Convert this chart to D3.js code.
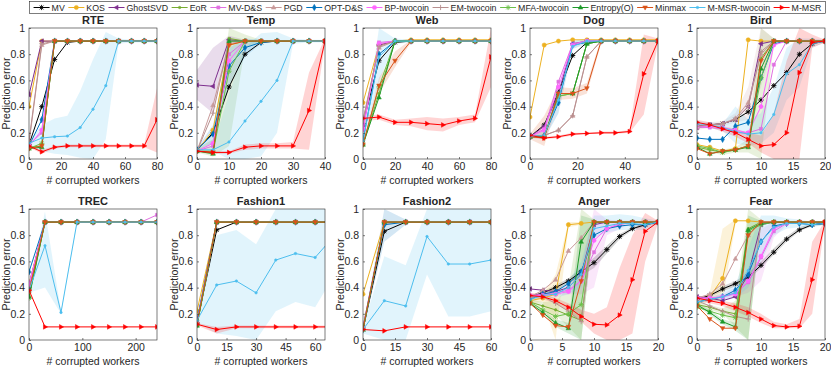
<!DOCTYPE html>
<html>
<head>
<meta charset="utf-8">
<script src="https://cdn.jsdelivr.net/npm/d3@7"></script>
<style>
  body { margin: 0; background: #fff; }
  text { font-family: "Liberation Sans", Arial, Helvetica, sans-serif; fill: #262626; }
</style>
</head>
<body>
<svg width="831" height="369"></svg>
<script>
// series, in legend order
const seriesNames = ["MV", "KOS", "GhostSVD", "EoR", "MV-D&S", "PGD", "OPT-D&S", "BP-twocoin",
  "EM-twocoin", "MFA-twocoin", "Entropy(O)", "Minmax", "M-MSR-twocoin", "M-MSR"];
const seriesColors = ["#000000", "#EDB120", "#7E2F8E", "#77AC30", "#E070E0", "#C89A9A", "#0072BD", "#FF66FF",
  "#B89090", "#6CC04A", "#1E9A2A", "#D95319", "#4DBEEE", "#FF0000"];
const seriesMarkers = ["star", "circle", "left", "dot", "square", "up", "diamond", "circle",
  "plus", "star", "up", "down", "dot", "right"];

// ---- RTE
const rteX = [0, 8, 16, 24, 32, 40, 48, 56, 64, 72, 80];
const rteVals = [
  [0.11, 0.40, 0.76, 0.89, 0.90, 0.90, 0.90, 0.90, 0.90, 0.90, 0.90],
  [0.40, 0.90, 0.90, 0.90, 0.90, 0.90, 0.90, 0.90, 0.90, 0.90, 0.90],
  [0.49, 0.90, 0.90, 0.90, 0.90, 0.90, 0.90, 0.90, 0.90, 0.90, 0.90],
  [0.09, 0.10, 0.90, 0.90, 0.90, 0.90, 0.90, 0.90, 0.90, 0.90, 0.90],
  [0.11, 0.20, 0.90, 0.90, 0.90, 0.90, 0.90, 0.90, 0.90, 0.90, 0.90],
  [0.12, 0.87, 0.90, 0.90, 0.90, 0.90, 0.90, 0.90, 0.90, 0.90, 0.90],
  [0.10, 0.30, 0.90, 0.90, 0.90, 0.90, 0.90, 0.90, 0.90, 0.90, 0.90],
  [0.10, 0.22, 0.90, 0.90, 0.90, 0.90, 0.90, 0.90, 0.90, 0.90, 0.90],
  [0.14, 0.88, 0.90, 0.90, 0.90, 0.90, 0.90, 0.90, 0.90, 0.90, 0.90],
  [0.08, 0.12, 0.90, 0.90, 0.90, 0.90, 0.90, 0.90, 0.90, 0.90, 0.90],
  [0.08, 0.09, 0.90, 0.90, 0.90, 0.90, 0.90, 0.90, 0.90, 0.90, 0.90],
  [0.08, 0.10, 0.90, 0.90, 0.90, 0.90, 0.90, 0.90, 0.90, 0.90, 0.90],
  [0.12, 0.16, 0.17, 0.175, 0.24, 0.38, 0.56, 0.90, 0.90, 0.90, 0.90],
  [0.10, 0.055, 0.09, 0.10, 0.10, 0.10, 0.10, 0.10, 0.10, 0.10, 0.30]
];
const rteBands = [
  [12, [0.10, 0.06, 0.04, 0.03, 0.01, 0.00, 0.15, 0.88, 0.89, 0.89, 0.89],
       [0.14, 0.26, 0.31, 0.33, 0.52, 0.76, 0.97, 0.92, 0.91, 0.91, 0.91]],
  [13, [0.09, 0.04, 0.08, 0.09, 0.09, 0.09, 0.09, 0.09, 0.09, 0.09, 0.05],
       [0.11, 0.07, 0.10, 0.11, 0.11, 0.11, 0.11, 0.11, 0.11, 0.11, 0.54]]
];

// ---- Temp
const tempX = [0, 5, 10, 15, 20, 25, 30, 35, 40];
const tempVals = [
  [0.07, 0.20, 0.55, 0.80, 0.89, 0.90, 0.90, 0.90, 0.90],
  [0.06, 0.22, 0.87, 0.90, 0.90, 0.90, 0.90, 0.90, 0.90],
  [0.565, 0.555, 0.91, 0.90, 0.90, 0.90, 0.90, 0.90, 0.90],
  [0.06, 0.06, 0.92, 0.90, 0.90, 0.90, 0.90, 0.90, 0.90],
  [0.06, 0.10, 0.80, 0.90, 0.90, 0.90, 0.90, 0.90, 0.90],
  [0.06, 0.41, 0.88, 0.90, 0.90, 0.90, 0.90, 0.90, 0.90],
  [0.07, 0.19, 0.71, 0.85, 0.89, 0.90, 0.90, 0.90, 0.90],
  [0.06, 0.12, 0.75, 0.90, 0.90, 0.90, 0.90, 0.90, 0.90],
  [0.06, 0.35, 0.90, 0.90, 0.90, 0.90, 0.90, 0.90, 0.90],
  [0.06, 0.05, 0.67, 0.90, 0.90, 0.90, 0.90, 0.90, 0.90],
  [0.06, 0.04, 0.90, 0.90, 0.90, 0.90, 0.90, 0.90, 0.90],
  [0.06, 0.05, 0.87, 0.90, 0.90, 0.90, 0.90, 0.90, 0.90],
  [0.07, 0.07, 0.13, 0.29, 0.44, 0.60, 0.90, 0.90, 0.90],
  [0.06, 0.05, 0.05, 0.09, 0.10, 0.10, 0.10, 0.37, 0.90]
];
const tempBands = [
  [2, [0.45, 0.35, 0.88, 0.89], [0.68, 0.85, 0.94, 0.91]],
  [3, [0.05, 0.02, 0.10, 0.85, 0.89], [0.08, 0.15, 1.00, 0.95, 0.91]],
  [6, [0.06, 0.12, 0.55, 0.78, 0.88], [0.08, 0.26, 0.85, 0.92, 0.91]],
  [12, [0.06, 0.06, 0.00, 0.00, 0.02, 0.20, 0.88, 0.89, 0.89],
       [0.08, 0.10, 0.50, 0.85, 0.96, 0.97, 0.92, 0.91, 0.91]],
  [13, [0.05, 0.04, 0.04, 0.07, 0.08, 0.08, 0.08, 0.07, 0.88],
       [0.07, 0.06, 0.06, 0.11, 0.12, 0.12, 0.13, 0.66, 0.92]]
];

// ---- Web
const webX = [0, 10, 20, 30, 40, 50, 60, 70, 80];
const webVals = [
  [0.27, 0.75, 0.89, 0.90, 0.90, 0.90, 0.90, 0.90, 0.90],
  [0.43, 0.87, 0.90, 0.91, 0.91, 0.91, 0.91, 0.91, 0.91],
  [0.26, 0.87, 0.90, 0.90, 0.90, 0.90, 0.90, 0.90, 0.90],
  [0.11, 0.50, 0.90, 0.90, 0.90, 0.90, 0.90, 0.90, 0.90],
  [0.22, 0.89, 0.90, 0.90, 0.90, 0.90, 0.90, 0.90, 0.90],
  [0.29, 0.85, 0.90, 0.90, 0.90, 0.90, 0.90, 0.90, 0.90],
  [0.14, 0.80, 0.90, 0.90, 0.90, 0.90, 0.90, 0.90, 0.90],
  [0.23, 0.88, 0.90, 0.90, 0.90, 0.90, 0.90, 0.90, 0.90],
  [0.30, 0.86, 0.90, 0.90, 0.90, 0.90, 0.90, 0.90, 0.90],
  [0.11, 0.55, 0.90, 0.90, 0.90, 0.90, 0.90, 0.90, 0.90],
  [0.11, 0.47, 0.90, 0.90, 0.90, 0.90, 0.90, 0.90, 0.90],
  [0.11, 0.56, 0.75, 0.90, 0.90, 0.90, 0.90, 0.90, 0.90],
  [0.14, 0.78, 0.90, 0.90, 0.90, 0.90, 0.90, 0.90, 0.90],
  [0.31, 0.32, 0.28, 0.28, 0.27, 0.26, 0.29, 0.31, 0.78]
];
const webBands = [
  [11, [0.10, 0.50, 0.70, 0.89], [0.12, 0.62, 0.82, 0.91]],
  [12, [0.12, 0.60, 0.88, 0.89], [0.16, 1.00, 0.92, 0.91]],
  [13, [0.29, 0.30, 0.26, 0.25, 0.22, 0.21, 0.26, 0.28, 0.55],
       [0.33, 0.34, 0.30, 0.31, 0.32, 0.31, 0.32, 0.34, 1.00]]
];

// ---- Dog
const dogX = [0, 6, 12, 18, 24, 30, 36, 42, 48, 54];
const dogVals = [
  [0.17, 0.26, 0.51, 0.79, 0.89, 0.90, 0.90, 0.90, 0.90, 0.90],
  [0.32, 0.87, 0.90, 0.91, 0.91, 0.91, 0.91, 0.91, 0.91, 0.91],
  [0.17, 0.25, 0.50, 0.88, 0.90, 0.90, 0.90, 0.90, 0.90, 0.90],
  [0.17, 0.17, 0.48, 0.50, 0.88, 0.90, 0.90, 0.90, 0.90, 0.90],
  [0.17, 0.23, 0.59, 0.88, 0.90, 0.90, 0.90, 0.90, 0.90, 0.90],
  [0.17, 0.18, 0.22, 0.33, 0.78, 0.90, 0.90, 0.90, 0.90, 0.90],
  [0.17, 0.18, 0.43, 0.87, 0.89, 0.90, 0.90, 0.90, 0.90, 0.90],
  [0.17, 0.22, 0.55, 0.87, 0.90, 0.90, 0.90, 0.90, 0.90, 0.90],
  [0.17, 0.18, 0.22, 0.33, 0.78, 0.90, 0.90, 0.90, 0.90, 0.90],
  [0.17, 0.17, 0.48, 0.50, 0.88, 0.90, 0.90, 0.90, 0.90, 0.90],
  [0.17, 0.17, 0.50, 0.50, 0.88, 0.90, 0.90, 0.90, 0.90, 0.90],
  [0.17, 0.16, 0.50, 0.50, 0.54, 0.90, 0.90, 0.90, 0.90, 0.90],
  [0.17, 0.18, 0.45, 0.86, 0.90, 0.90, 0.90, 0.90, 0.90, 0.90],
  [0.18, 0.16, 0.17, 0.19, 0.195, 0.20, 0.20, 0.21, 0.65, 0.90]
];
const dogBands = [
  [6, [0.16, 0.15, 0.35, 0.84, 0.88], [0.18, 0.22, 0.52, 0.90, 0.92]],
  [11, [0.15, 0.10, 0.45, 0.46, 0.50, 0.88], [0.19, 0.33, 0.55, 0.54, 0.58, 0.92]],
  [13, [0.17, 0.15, 0.16, 0.18, 0.19, 0.19, 0.19, 0.20, 0.34, 0.88],
       [0.19, 0.17, 0.18, 0.20, 0.20, 0.21, 0.21, 0.22, 0.95, 0.92]]
];

// ---- Bird
const birdX = [0, 2, 4, 6, 8, 10, 12, 14, 16, 18, 20];
const birdVals = [
  [0.25, 0.26, 0.27, 0.30, 0.36, 0.45, 0.56, 0.66, 0.80, 0.88, 0.90],
  [0.11, 0.09, 0.06, 0.08, 0.91, 0.90, 0.90, 0.90, 0.90, 0.90, 0.90],
  [0.24, 0.26, 0.27, 0.30, 0.40, 0.88, 0.90, 0.90, 0.90, 0.90, 0.90],
  [0.09, 0.07, 0.05, 0.07, 0.10, 0.77, 0.90, 0.90, 0.90, 0.90, 0.90],
  [0.24, 0.24, 0.23, 0.20, 0.20, 0.23, 0.72, 0.90, 0.90, 0.90, 0.90],
  [0.24, 0.26, 0.27, 0.31, 0.43, 0.80, 0.90, 0.90, 0.90, 0.90, 0.90],
  [0.16, 0.15, 0.15, 0.25, 0.28, 0.62, 0.88, 0.90, 0.90, 0.90, 0.90],
  [0.25, 0.25, 0.24, 0.22, 0.20, 0.40, 0.87, 0.90, 0.90, 0.90, 0.90],
  [0.25, 0.26, 0.27, 0.30, 0.40, 0.82, 0.90, 0.90, 0.90, 0.90, 0.90],
  [0.10, 0.08, 0.05, 0.07, 0.10, 0.62, 0.90, 0.90, 0.90, 0.90, 0.90],
  [0.09, 0.04, 0.06, 0.07, 0.09, 0.69, 0.90, 0.90, 0.90, 0.90, 0.90],
  [0.08, 0.04, 0.06, 0.07, 0.10, 0.75, 0.90, 0.90, 0.90, 0.90, 0.90],
  [0.27, 0.26, 0.24, 0.21, 0.19, 0.20, 0.34, 0.65, 0.72, 0.88, 0.90],
  [0.28, 0.26, 0.23, 0.20, 0.15, 0.10, 0.11, 0.20, 0.66, 0.89, 0.90]
];
const birdBands = [
  [3, [0.07, 0.05, 0.03, 0.05, 0.05, 0.00, 0.88], [0.11, 0.09, 0.07, 0.09, 0.15, 1.00, 0.92]],
  [5, [0.22, 0.24, 0.25, 0.28, 0.30, 0.55, 0.88], [0.26, 0.28, 0.29, 0.35, 0.55, 1.00, 0.92]],
  [12, [0.25, 0.24, 0.21, 0.12, 0.10, 0.12, 0.20, 0.45, 0.55, 0.85, 0.89],
       [0.29, 0.28, 0.27, 0.40, 0.30, 0.35, 0.55, 0.85, 0.92, 0.92, 0.91]],
  [13, [0.26, 0.24, 0.21, 0.17, 0.12, 0.05, 0.00, 0.00, 0.00, 0.85, 0.89],
       [0.30, 0.28, 0.25, 0.23, 0.20, 0.18, 0.35, 0.75, 1.00, 0.95, 0.91]]
];

// ---- TREC
const trecX = [0, 30, 60, 90, 120, 150, 180, 210, 240];
const trecVals = [
  [0.40, 0.90, 0.90, 0.90, 0.90, 0.90, 0.90, 0.90, 0.90],
  [0.43, 0.90, 0.90, 0.90, 0.90, 0.90, 0.90, 0.90, 0.90],
  [0.42, 0.90, 0.90, 0.90, 0.90, 0.90, 0.90, 0.90, 0.90],
  [0.34, 0.90, 0.90, 0.90, 0.90, 0.90, 0.90, 0.90, 0.90],
  [0.42, 0.90, 0.90, 0.90, 0.90, 0.90, 0.90, 0.90, 0.955],
  [0.38, 0.90, 0.90, 0.90, 0.90, 0.90, 0.90, 0.90, 0.90],
  [0.52, 0.90, 0.90, 0.90, 0.90, 0.90, 0.90, 0.90, 0.90],
  [0.42, 0.90, 0.90, 0.90, 0.90, 0.90, 0.90, 0.90, 0.90],
  [0.36, 0.90, 0.90, 0.90, 0.90, 0.90, 0.90, 0.90, 0.90],
  [0.32, 0.90, 0.90, 0.90, 0.90, 0.90, 0.90, 0.90, 0.90],
  [0.33, 0.90, 0.90, 0.90, 0.90, 0.90, 0.90, 0.90, 0.90],
  [0.37, 0.90, 0.90, 0.90, 0.90, 0.90, 0.90, 0.90, 0.90],
  [0.38, 0.72, 0.21, 0.90, 0.90, 0.90, 0.90, 0.90, 0.90],
  [0.38, 0.10, 0.10, 0.10, 0.10, 0.10, 0.10, 0.10, 0.10]
];
const trecBands = [
  [12, [0.36, 0.40, 0.20, 0.89], [0.40, 0.98, 0.22, 0.91]]
];

// ---- Fashion1
const fashion1X = [0, 10, 20, 30, 40, 50, 60, 70];
const fashion1Vals = [
  [0.13, 0.84, 0.90, 0.90, 0.90, 0.90, 0.90, 0.90],
  [0.22, 0.90, 0.90, 0.90, 0.90, 0.90, 0.90, 0.90],
  [0.14, 0.90, 0.90, 0.90, 0.90, 0.90, 0.90, 0.90],
  [0.11, 0.90, 0.90, 0.90, 0.90, 0.90, 0.90, 0.90],
  [0.13, 0.90, 0.90, 0.90, 0.90, 0.90, 0.90, 0.90],
  [0.12, 0.90, 0.90, 0.90, 0.90, 0.90, 0.90, 0.90],
  [0.15, 0.90, 0.90, 0.90, 0.90, 0.90, 0.90, 0.90],
  [0.13, 0.90, 0.90, 0.90, 0.90, 0.90, 0.90, 0.90],
  [0.12, 0.90, 0.90, 0.90, 0.90, 0.90, 0.90, 0.90],
  [0.11, 0.90, 0.90, 0.90, 0.90, 0.90, 0.90, 0.90],
  [0.11, 0.90, 0.90, 0.90, 0.90, 0.90, 0.90, 0.90],
  [0.12, 0.90, 0.90, 0.90, 0.90, 0.90, 0.90, 0.90],
  [0.15, 0.42, 0.45, 0.36, 0.61, 0.66, 0.63, 0.80],
  [0.12, 0.08, 0.10, 0.10, 0.10, 0.10, 0.10, 0.10]
];
const fashion1Bands = [
  [12, [0.13, 0.05, 0.03, 0.00, 0.22, 0.29, 0.25, 0.50],
       [0.17, 0.80, 0.84, 0.73, 1.00, 1.00, 1.00, 1.00]],
  [13, [0.11, 0.05, 0.09, 0.09, 0.09, 0.09, 0.09, 0.09],
       [0.13, 0.10, 0.11, 0.11, 0.11, 0.11, 0.11, 0.11]]
];

// ---- Fashion2
const fashion2X = [0, 10, 20, 30, 40, 50, 60];
const fashion2Vals = [
  [0.08, 0.83, 0.90, 0.90, 0.90, 0.90, 0.90],
  [0.35, 0.90, 0.90, 0.90, 0.90, 0.90, 0.90],
  [0.10, 0.90, 0.90, 0.90, 0.90, 0.90, 0.90],
  [0.08, 0.90, 0.90, 0.90, 0.90, 0.90, 0.90],
  [0.09, 0.90, 0.90, 0.90, 0.90, 0.90, 0.90],
  [0.09, 0.89, 0.90, 0.90, 0.90, 0.90, 0.90],
  [0.08, 0.88, 0.90, 0.90, 0.90, 0.90, 0.90],
  [0.09, 0.90, 0.90, 0.90, 0.90, 0.90, 0.90],
  [0.09, 0.90, 0.90, 0.90, 0.90, 0.90, 0.90],
  [0.08, 0.90, 0.90, 0.90, 0.90, 0.90, 0.90],
  [0.08, 0.90, 0.90, 0.90, 0.90, 0.90, 0.90],
  [0.08, 0.90, 0.90, 0.90, 0.90, 0.90, 0.90],
  [0.08, 0.30, 0.26, 0.79, 0.58, 0.58, 0.61],
  [0.08, 0.07, 0.10, 0.10, 0.10, 0.10, 0.10]
];
const fashion2Bands = [
  [6, [0.07, 0.75, 0.88], [0.09, 1.00, 0.92]],
  [12, [0.05, 0.00, 0.00, 0.50, 0.18, 0.18, 0.22],
       [0.10, 0.64, 0.57, 1.00, 1.00, 1.00, 1.00]]
];

// ---- Anger
const angerX = [0, 2, 4, 6, 8, 10, 12, 14, 16, 18, 20];
const angerVals = [
  [0.33, 0.36, 0.40, 0.45, 0.52, 0.59, 0.69, 0.79, 0.85, 0.88, 0.90],
  [0.30, 0.32, 0.35, 0.88, 0.89, 0.90, 0.90, 0.90, 0.90, 0.90, 0.90],
  [0.39, 0.38, 0.37, 0.40, 0.50, 0.88, 0.90, 0.90, 0.90, 0.90, 0.90],
  [0.29, 0.26, 0.23, 0.19, 0.15, 0.90, 0.90, 0.90, 0.90, 0.90, 0.90],
  [0.34, 0.35, 0.36, 0.38, 0.45, 0.67, 0.85, 0.88, 0.90, 0.90, 0.90],
  [0.33, 0.38, 0.46, 0.68, 0.78, 0.90, 0.90, 0.90, 0.90, 0.90, 0.90],
  [0.31, 0.35, 0.37, 0.43, 0.52, 0.80, 0.85, 0.87, 0.88, 0.88, 0.90],
  [0.34, 0.34, 0.35, 0.37, 0.45, 0.76, 0.85, 0.89, 0.90, 0.90, 0.90],
  [0.33, 0.33, 0.28, 0.22, 0.14, 0.90, 0.90, 0.90, 0.90, 0.90, 0.90],
  [0.29, 0.23, 0.18, 0.20, 0.27, 0.90, 0.90, 0.90, 0.90, 0.90, 0.90],
  [0.28, 0.21, 0.13, 0.09, 0.75, 0.90, 0.90, 0.90, 0.90, 0.90, 0.90],
  [0.28, 0.19, 0.11, 0.10, 0.45, 0.90, 0.90, 0.90, 0.90, 0.90, 0.90],
  [0.31, 0.34, 0.35, 0.40, 0.50, 0.85, 0.87, 0.89, 0.89, 0.88, 0.90],
  [0.34, 0.33, 0.30, 0.25, 0.18, 0.12, 0.115, 0.19, 0.46, 0.83, 0.90]
];
const angerBands = [
  [0, [0.32, 0.35, 0.38, 0.43, 0.49, 0.55, 0.66, 0.77, 0.84, 0.87, 0.89],
      [0.34, 0.37, 0.42, 0.47, 0.55, 0.63, 0.72, 0.81, 0.86, 0.89, 0.91]],
  [1, [0.28, 0.29, 0.00, 0.86, 0.88], [0.32, 0.35, 0.50, 0.90, 0.90]],
  [3, [0.27, 0.23, 0.19, 0.10, 0.00, 0.88], [0.31, 0.29, 0.30, 0.40, 1.00, 0.92]],
  [4, [0.33, 0.34, 0.34, 0.35, 0.35, 0.40, 0.80, 0.85, 0.89], [0.35, 0.36, 0.38, 0.42, 0.55, 1.00, 0.92, 0.91, 0.91]],
  [10, [0.27, 0.20, 0.10, 0.05, 0.00, 0.88], [0.29, 0.23, 0.16, 0.13, 0.95, 0.92]],
  [12, [0.29, 0.32, 0.32, 0.35, 0.40, 0.78, 0.82, 0.84, 0.84, 0.84, 0.89],
       [0.33, 0.36, 0.38, 0.45, 0.60, 0.95, 0.95, 0.96, 0.95, 0.93, 0.91]],
  [13, [0.32, 0.31, 0.28, 0.22, 0.14, 0.05, 0.00, 0.00, 0.05, 0.60, 0.89],
       [0.36, 0.35, 0.32, 0.28, 0.23, 0.20, 0.25, 0.55, 0.80, 0.97, 0.91]]
];

// ---- Fear
const fearX = [0, 2, 4, 6, 8, 10, 12, 14, 16, 18, 20];
const fearVals = [
  [0.31, 0.34, 0.39, 0.43, 0.48, 0.57, 0.67, 0.77, 0.84, 0.88, 0.89],
  [0.28, 0.33, 0.47, 0.91, 0.91, 0.90, 0.90, 0.90, 0.90, 0.90, 0.90],
  [0.33, 0.32, 0.30, 0.33, 0.50, 0.88, 0.90, 0.90, 0.90, 0.90, 0.90],
  [0.27, 0.25, 0.22, 0.20, 0.85, 0.90, 0.90, 0.90, 0.90, 0.90, 0.90],
  [0.32, 0.32, 0.33, 0.36, 0.44, 0.63, 0.83, 0.89, 0.90, 0.90, 0.90],
  [0.32, 0.35, 0.43, 0.62, 0.80, 0.90, 0.90, 0.90, 0.90, 0.90, 0.90],
  [0.29, 0.31, 0.33, 0.38, 0.50, 0.75, 0.87, 0.89, 0.89, 0.88, 0.89],
  [0.32, 0.32, 0.33, 0.35, 0.45, 0.64, 0.85, 0.89, 0.90, 0.90, 0.90],
  [0.30, 0.26, 0.22, 0.18, 0.16, 0.90, 0.90, 0.90, 0.90, 0.90, 0.90],
  [0.25, 0.22, 0.19, 0.17, 0.83, 0.88, 0.90, 0.90, 0.90, 0.90, 0.90],
  [0.27, 0.21, 0.14, 0.10, 0.84, 0.89, 0.90, 0.90, 0.90, 0.90, 0.90],
  [0.26, 0.16, 0.09, 0.09, 0.80, 0.90, 0.90, 0.90, 0.90, 0.90, 0.90],
  [0.29, 0.31, 0.33, 0.36, 0.53, 0.75, 0.86, 0.89, 0.89, 0.88, 0.89],
  [0.32, 0.30, 0.28, 0.25, 0.21, 0.16, 0.11, 0.10, 0.105, 0.46, 0.90]
];
const fearBands = [
  [0, [0.30, 0.33, 0.37, 0.41, 0.46, 0.55, 0.65, 0.75, 0.83, 0.87, 0.88],
      [0.32, 0.35, 0.41, 0.45, 0.51, 0.60, 0.70, 0.79, 0.86, 0.89, 0.90]],
  [1, [0.26, 0.30, 0.30, 0.88], [0.30, 0.36, 0.85, 0.92]],
  [3, [0.25, 0.23, 0.20, 0.10, 0.00, 0.88], [0.29, 0.27, 0.24, 0.30, 1.00, 0.92]],
  [4, [0.31, 0.31, 0.31, 0.33, 0.36, 0.45, 0.78, 0.88], [0.33, 0.33, 0.35, 0.40, 0.55, 0.85, 0.90, 0.91]],
  [10, [0.26, 0.19, 0.12, 0.07, 0.00, 0.87], [0.28, 0.23, 0.16, 0.13, 0.95, 0.91]],
  [12, [0.28, 0.29, 0.30, 0.32, 0.40, 0.60, 0.80, 0.85, 0.86, 0.86, 0.88],
       [0.30, 0.33, 0.36, 0.42, 0.70, 0.95, 0.95, 0.93, 0.92, 0.90, 0.90]],
  [13, [0.30, 0.28, 0.26, 0.22, 0.18, 0.13, 0.09, 0.09, 0.09, 0.20, 0.89],
       [0.34, 0.32, 0.30, 0.28, 0.25, 0.20, 0.14, 0.12, 0.16, 0.75, 0.91]]
];

const panels = [
  { title: "RTE", xs: rteX, vals: rteVals, bands: rteBands, xDomain: [0, 80], xTicks: [0, 20, 40, 60, 80] },
  { title: "Temp", xs: tempX, vals: tempVals, bands: tempBands, xDomain: [0, 40], xTicks: [0, 10, 20, 30, 40] },
  { title: "Web", xs: webX, vals: webVals, bands: webBands, xDomain: [0, 80], xTicks: [0, 20, 40, 60, 80] },
  { title: "Dog", xs: dogX, vals: dogVals, bands: dogBands, xDomain: [0, 54], xTicks: [0, 20, 40] },
  { title: "Bird", xs: birdX, vals: birdVals, bands: birdBands, xDomain: [0, 20], xTicks: [0, 5, 10, 15, 20] },
  { title: "TREC", xs: trecX, vals: trecVals, bands: trecBands, xDomain: [0, 240], xTicks: [0, 100, 200] },
  { title: "Fashion1", xs: fashion1X, vals: fashion1Vals, bands: fashion1Bands, xDomain: [0, 65], xTicks: [0, 15, 30, 45, 60] },
  { title: "Fashion2", xs: fashion2X, vals: fashion2Vals, bands: fashion2Bands, xDomain: [0, 60], xTicks: [0, 15, 30, 45, 60] },
  { title: "Anger", xs: angerX, vals: angerVals, bands: angerBands, xDomain: [0, 20], xTicks: [0, 5, 10, 15, 20] },
  { title: "Fear", xs: fearX, vals: fearVals, bands: fearBands, xDomain: [0, 20], xTicks: [0, 5, 10, 15, 20] }
];
const yTicks = [0, 0.2, 0.4, 0.6, 0.8, 1];

const svg = d3.select("svg");
const colLeft = [29, 197, 363, 530, 697];
const rowTop = [28, 209];
const plotW = 128, plotH = 131;
const axisColor = "#262626";

function markerPath(type) {
  const r = 2.6;
  switch (type) {
    case "star": return "M-2.6,0H2.6M0,-2.6V2.6M-1.9,-1.9L1.9,1.9M-1.9,1.9L1.9,-1.9";
    case "plus": return "M-2.6,0H2.6M0,-2.6V2.6";
    case "up": return `M0,${-r}L${r * 0.9},${r * 0.6}L${-r * 0.9},${r * 0.6}Z`;
    case "down": return `M0,${r}L${r * 0.9},${-r * 0.6}L${-r * 0.9},${-r * 0.6}Z`;
    case "left": return `M${-r},0L${r * 0.6},${-r * 0.9}L${r * 0.6},${r * 0.9}Z`;
    case "right": return `M${r},0L${-r * 0.6},${-r * 0.9}L${-r * 0.6},${r * 0.9}Z`;
    case "square": return d3.symbol(d3.symbolSquare, 10)();
    case "diamond": return d3.symbol(d3.symbolDiamond, 12)();
    case "circle": return d3.symbol(d3.symbolCircle, 14)();
    default: return d3.symbol(d3.symbolCircle, 5)();
  }
}
const strokeOnly = t => t === "star" || t === "plus";

function drawMarkers(g, pts, si) {
  const t = seriesMarkers[si], c = seriesColors[si];
  g.selectAll(null).data(pts).enter().append("path")
    .attr("transform", d => `translate(${d[0]},${d[1]})`)
    .attr("d", markerPath(t))
    .attr("fill", strokeOnly(t) ? "none" : c)
    .attr("stroke", c)
    .attr("stroke-width", strokeOnly(t) ? 0.9 : 0.5);
}

panels.forEach((p, i) => {
  const left = colLeft[i % 5], top = rowTop[Math.floor(i / 5)];
  const g = svg.append("g").attr("transform", `translate(${left},${top})`);
  const x = d3.scaleLinear().domain(p.xDomain).range([0, plotW]);
  const y = d3.scaleLinear().domain([0, 1]).range([plotH, 0]);

  const clipId = "clip" + i;
  g.append("clipPath").attr("id", clipId)
    .append("rect").attr("width", plotW).attr("height", plotH);
  const plot = g.append("g").attr("clip-path", `url(#${clipId})`);

  // shaded spread bands
  p.bands.forEach(([si, lo, hi]) => {
    const pts = lo.map((l, k) => ({ x: p.xs[k], lo: l, hi: hi[k] }));
    plot.append("path")
      .datum(pts)
      .attr("d", d3.area().x(d => x(d.x)).y0(d => y(d.lo)).y1(d => y(d.hi)))
      .attr("fill", seriesColors[si])
      .attr("fill-opacity", 0.17)
      .attr("stroke", "none");
  });

  const line = d3.line().x(d => d[0]).y(d => d[1]);
  p.vals.forEach((vals, si) => {
    const pts = vals.map((v, k) => [x(p.xs[k]), y(v)]);
    plot.append("path").attr("d", line(pts))
      .attr("fill", "none").attr("stroke", seriesColors[si]).attr("stroke-width", 1);
    drawMarkers(plot, pts, si);
  });

  // box and axes
  g.append("rect").attr("width", plotW).attr("height", plotH)
    .attr("fill", "none").attr("stroke", axisColor).attr("stroke-width", 0.6);

  const ya = g.append("g").call(d3.axisLeft(y).tickValues(yTicks).tickFormat(d3.format("~g"))
    .tickSizeInner(-2).tickSizeOuter(0).tickPadding(4));
  const xa = g.append("g").attr("transform", `translate(0,${plotH})`)
    .call(d3.axisBottom(x).tickValues(p.xTicks).tickSizeInner(-2).tickSizeOuter(0).tickPadding(4));
  [ya, xa].forEach(a => {
    a.select(".domain").remove();
    a.selectAll("line").attr("stroke", axisColor).attr("stroke-width", 0.6);
    a.selectAll("text").attr("font-size", 10.5).attr("fill", "#333")
      .style("font-family", "'Liberation Sans', Arial, sans-serif");
  });

  g.append("text").attr("x", plotW / 2).attr("y", -4)
    .attr("text-anchor", "middle").attr("font-size", 11).attr("font-weight", "bold")
    .attr("fill", "#000").text(p.title);
  g.append("text").attr("x", plotW / 2).attr("y", plotH + 25)
    .attr("text-anchor", "middle").attr("font-size", 10.5).text("# corrupted workers");
  g.append("text").attr("transform", `translate(-19,${plotH / 2}) rotate(-90)`)
    .attr("text-anchor", "middle").attr("font-size", 10.5).text("Prediction error");
});

// legend across the top: items spread evenly inside the box
const legendLeft = 30, legendRight = 825, legendLine = 16, legendFont = 8.8;
const lg = svg.append("g");
lg.append("rect").attr("x", legendLeft - 0.5).attr("y", 1.5)
  .attr("width", legendRight - legendLeft + 1).attr("height", 12)
  .attr("fill", "#fff").attr("stroke", axisColor).attr("stroke-width", 0.6);
const labels = seriesNames.map(name => lg.append("text").attr("y", 10.6)
  .attr("font-size", legendFont).text(name));
const widths = labels.map(t => t.node().getComputedTextLength());
const used = d3.sum(widths) + seriesNames.length * (legendLine + 2);
const gap = (legendRight - legendLeft - used) / (seriesNames.length + 1);
let cx = legendLeft + gap;
seriesNames.forEach((name, si) => {
  lg.append("line").attr("x1", cx).attr("x2", cx + legendLine).attr("y1", 7.5).attr("y2", 7.5)
    .attr("stroke", seriesColors[si]).attr("stroke-width", 1);
  drawMarkers(lg, [[cx + legendLine / 2, 7.5]], si);
  labels[si].attr("x", cx + legendLine + 2);
  cx += legendLine + 2 + widths[si] + gap;
});
</script>
</body>
</html>
